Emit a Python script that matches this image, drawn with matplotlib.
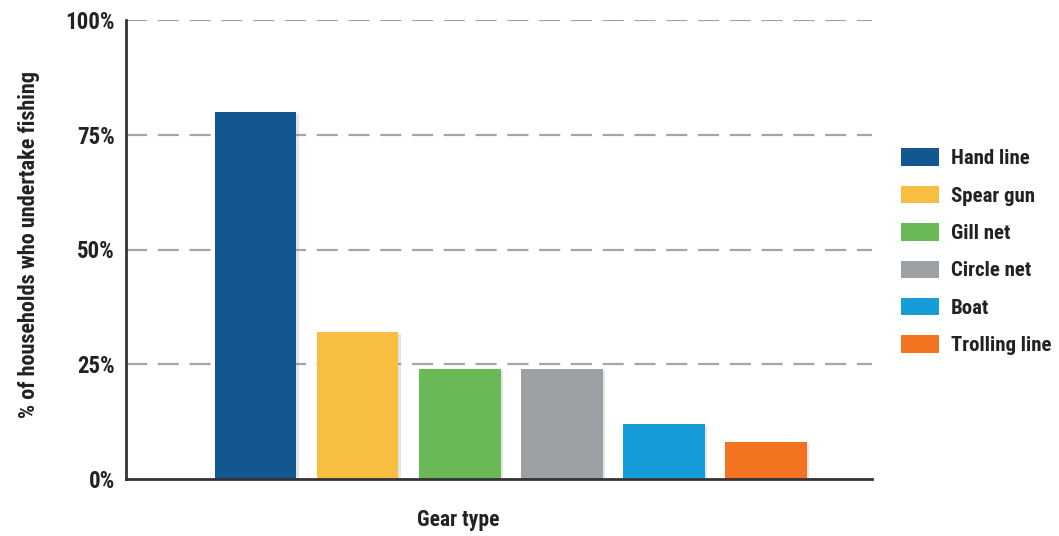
import matplotlib
matplotlib.use("Agg")
import matplotlib.pyplot as plt
import matplotlib.patheffects as pe
from matplotlib.patches import Patch

categories = ["Hand line", "Spear gun", "Gill net", "Circle net", "Boat", "Trolling line"]
values = [80, 32, 24, 24, 12, 8]
colors = ["#135792", "#F7BE41", "#6BB956", "#9EA1A4", "#169DD9", "#F37321"]
yticks = [0, 25, 50, 75, 100]
ytick_labels = ["0%", "25%", "50%", "75%", "100%"]

plt.rcParams['font.family'] = ['Roboto Condensed', 'Liberation Sans Narrow', 'Liberation Sans', 'DejaVu Sans']
plt.rcParams['font.weight'] = 'bold'

TXT = '#222222'

fig = plt.figure(figsize=(10.59, 5.36), dpi=100)
ax = fig.add_axes([126/1059, 1-479/536, (872-126)/1059, (479-20)/536])

x = list(range(len(categories)))
shadow = [pe.SimplePatchShadow(offset=(1.5, -1.5), shadow_rgbFace='#999999', alpha=0.25), pe.Normal()]
bars = ax.bar(x, values, width=0.8, color=colors, zorder=3)
for b in bars:
    b.set_path_effects(shadow)

ax.set_xlim(-1.27, 6.04)
ax.set_ylim(0, 100)
ax.set_yticks(yticks)
ax.set_yticklabels(ytick_labels, fontsize=16.5, fontweight='bold', color=TXT)
ax.set_xticks([])
ax.tick_params(axis='y', length=0, pad=8)

for yv in yticks[1:]:
    ax.axhline(yv, color='#A3A5A7', lw=1.6, dashes=(9.5, 4.8), zorder=1)

for s in ['top', 'right']:
    ax.spines[s].set_visible(False)
ax.spines['left'].set_color('#333333')
ax.spines['left'].set_linewidth(2)
ax.spines['bottom'].set_color('#333333')
ax.spines['bottom'].set_linewidth(2)
ax.spines['bottom'].set_zorder(4)

ax.set_ylabel("% of households who undertake fishing", fontsize=16, fontweight='bold', color=TXT)
ax.yaxis.set_label_coords(-(126-40)/746, 0.51)
ax.set_xlabel("Gear type", fontsize=15.5, fontweight='bold', color=TXT)
ax.xaxis.set_label_coords((458-126)/746, -(509-479)/459)

handles = [Patch(facecolor=c, edgecolor='none') for c in colors]
leg = fig.legend(handles, categories, loc='upper left', bbox_to_anchor=(892.7/1059, 1-140/536),
                 frameon=False, fontsize=15, handlelength=1.82, handleheight=0.91,
                 labelspacing=0.84, handletextpad=0.58, borderaxespad=0)
for t in leg.get_texts():
    t.set_fontweight('bold')
    t.set_color(TXT)

fig.savefig("out.png", dpi=100)
